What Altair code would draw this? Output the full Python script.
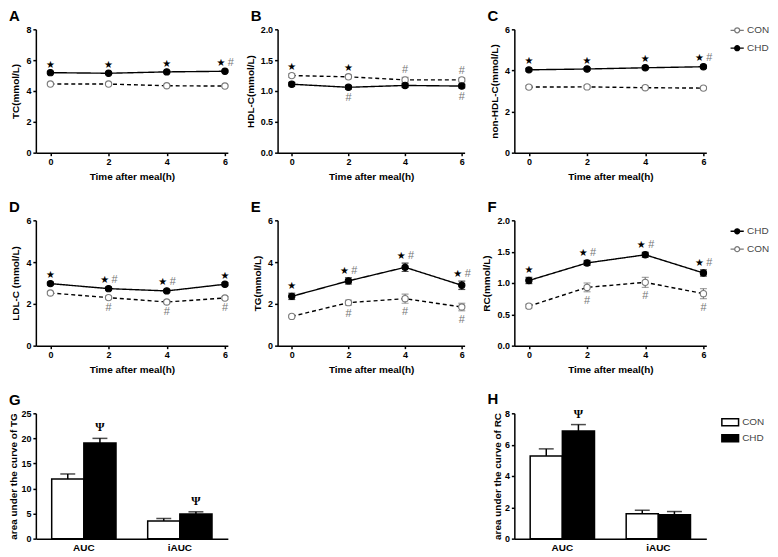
import altair as alt
import pandas as pd

times = [0, 2, 4, 6]

# A: TC
tc_chd = [5.19, 5.15, 5.24, 5.28]
tc_chd_err = [0.06, 0.06, 0.06, 0.06]
tc_con = [4.45, 4.45, 4.34, 4.32]
tc_con_err = [0.05, 0.05, 0.05, 0.05]
tc_top = ["★", "★", "★", "★#"]
tc_bot = ["", "", "", ""]

# B: HDL-C
hdl_chd = [1.11, 1.06, 1.09, 1.08]
hdl_chd_err = [0.03, 0.03, 0.03, 0.03]
hdl_con = [1.25, 1.23, 1.18, 1.18]
hdl_con_err = [0.03, 0.03, 0.04, 0.03]
hdl_top = ["★", "★", "#", "#"]
hdl_bot = ["", "#", "", "#"]

# C: non-HDL-C
nhdl_chd = [4.03, 4.07, 4.13, 4.18]
nhdl_chd_err = [0.07, 0.07, 0.07, 0.07]
nhdl_con = [3.19, 3.20, 3.16, 3.14]
nhdl_con_err = [0.07, 0.07, 0.07, 0.07]
nhdl_top = ["★", "★", "★", "★#"]
nhdl_bot = ["", "", "", ""]

# D: LDL-C
ldl_chd = [2.97, 2.73, 2.62, 2.94]
ldl_chd_err = [0.07, 0.07, 0.07, 0.07]
ldl_con = [2.52, 2.30, 2.09, 2.28]
ldl_con_err = [0.07, 0.07, 0.07, 0.07]
ldl_top = ["★", "★#", "★#", "★"]
ldl_bot = ["", "#", "#", "#"]

# E: TG
tg_chd = [2.36, 3.10, 3.75, 2.89]
tg_chd_err = [0.15, 0.15, 0.20, 0.20]
tg_con = [1.40, 2.06, 2.25, 1.85]
tg_con_err = [0.05, 0.12, 0.22, 0.18]
tg_top = ["★", "★#", "★#", "★#"]
tg_bot = ["", "#", "#", "#"]

# F: RC
rc_chd = [1.04, 1.32, 1.45, 1.16]
rc_chd_err = [0.05, 0.04, 0.04, 0.05]
rc_con = [0.63, 0.93, 1.01, 0.83]
rc_con_err = [0.03, 0.07, 0.08, 0.08]
rc_top = ["★", "★#", "★#", "★#"]
rc_bot = ["", "#", "#", "#"]

# G / H: area under the curve
metrics = ["AUC", "iAUC"]
g_con = [11.9, 3.5]
g_con_err = [1.0, 0.5]
g_chd = [19.1, 4.9]
g_chd_err = [0.9, 0.45]
g_psi = ["Ψ", "Ψ"]
h_con = [5.28, 1.59]
h_con_err = [0.45, 0.22]
h_chd = [6.87, 1.53]
h_chd_err = [0.41, 0.20]
h_psi = ["Ψ", ""]

FONT = "Liberation Sans"
FILL = {"CON": "white", "CHD": "black"}
STROKE = {"CON": "#7a7a7a", "CHD": "black"}
DASH = {"CON": [4, 3], "CHD": [1, 0]}
LINE_SYMBOL = ("M-2,0L-0.75,0M0.75,0L2,0"
               "M0.75,0C0.75,0.414,0.414,0.75,0,0.75C-0.414,0.75,-0.75,0.414,-0.75,0"
               "C-0.75,-0.414,-0.414,-0.75,0,-0.75C0.414,-0.75,0.75,-0.414,0.75,0Z")
BOX_SYMBOL = "M-2.4,-1H2.4V1H-2.4Z"


def letter_title(letter, dx):
    return alt.Title(letter, anchor="start", frame="group", dx=dx, fontSize=15,
                     fontWeight="bold", font=FONT, color="black", offset=1)


def line_panel(letter, ytitle, ymax, yticks, yfmt, chd, chd_err, con, con_err,
               top_lbl, bot_lbl, width, height, legend_order=None, legend_xy=None):
    rows = []
    for g, vals, errs in (("CON", con, con_err), ("CHD", chd, chd_err)):
        for t, v, e in zip(times, vals, errs):
            rows.append(dict(time=t, group=g, dashkey=g + " line", value=v, lo=v - e, hi=v + e))
    df = pd.DataFrame(rows)
    ann = []
    for i, t in enumerate(times):
        top = max(chd[i] + chd_err[i], con[i] + con_err[i])
        bot = min(chd[i] - chd_err[i], con[i] - con_err[i])
        s = "★" in top_lbl[i]
        h = "#" in top_lbl[i]
        if s:
            ann.append(dict(time=t, value=top, txt="★", kind="star_pair" if h else "star"))
        if h:
            ann.append(dict(time=t, value=top, txt="#", kind="hash_pair" if s else "hash_top"))
        if "#" in bot_lbl[i]:
            ann.append(dict(time=t, value=bot, txt="#", kind="hash_bot"))
    adf = pd.DataFrame(ann, columns=["time", "value", "txt", "kind"])

    order = legend_order or ["CON", "CHD"]
    if legend_xy is not None:
        leg = alt.Legend(title=None, orient="none", legendX=legend_xy[0],
                         legendY=legend_xy[1], symbolType=LINE_SYMBOL, symbolSize=44,
                         symbolStrokeWidth=1.3, symbolOpacity=1,
                         labelFont=FONT, labelFontSize=10,
                         labelColor="#444", labelFontWeight="normal", rowPadding=6,
                         labelOffset=5)
    else:
        leg = None

    ysc = alt.Scale(domain=[0, ymax], nice=False, zero=True)
    yax = alt.Axis(values=yticks, format=yfmt, title=ytitle)
    x = alt.X("time:Q", scale=alt.Scale(domain=[-0.5, 6.1], nice=False, zero=False),
              axis=alt.Axis(values=times, format="d", title="Time after meal(h)"))
    y = alt.Y("value:Q", scale=ysc, axis=yax)

    base = alt.Chart(df)
    dash_dom = [g + " line" for g in order]
    line = base.mark_line(color="black", strokeWidth=1.4).encode(
        x=x, y=y,
        strokeDash=alt.StrokeDash("dashkey:N", scale=alt.Scale(domain=dash_dom, range=[DASH[g] for g in order]),
                                  legend=None))
    layers = [line]
    for g in ("CON", "CHD"):
        gb = base.transform_filter(alt.datum.group == g)
        layers.append(gb.mark_rule(strokeWidth=1.2, color=STROKE[g]).encode(
            x=x, y=alt.Y("lo:Q", scale=ysc, axis=yax), y2="hi:Q"))
        layers.append(gb.mark_tick(orient="horizontal", size=7, thickness=1.2, color=STROKE[g]).encode(
            x=x, y=alt.Y("lo:Q", scale=ysc, axis=yax)))
        layers.append(gb.mark_tick(orient="horizontal", size=7, thickness=1.2, color=STROKE[g]).encode(
            x=x, y=alt.Y("hi:Q", scale=ysc, axis=yax)))
    pts = base.mark_point(filled=True, shape="circle", size=40, opacity=1, strokeWidth=1.1).encode(
        x=x, y=y,
        fill=alt.Fill("group:N", scale=alt.Scale(domain=order, range=[FILL[g] for g in order]), legend=leg),
        stroke=alt.Stroke("group:N", scale=alt.Scale(domain=order, range=[STROKE[g] for g in order]), legend=leg))
    layers.append(pts)

    abase = alt.Chart(adf)
    layers += [
        abase.transform_filter(alt.datum.kind == "star").mark_text(
            font="DejaVu Sans", fontSize=10, baseline="bottom", dy=-2, color="black").encode(x=x, y=y, text="txt:N"),
        abase.transform_filter(alt.datum.kind == "star_pair").mark_text(
            font="DejaVu Sans", fontSize=10, baseline="bottom", dy=-2, dx=-4, color="black").encode(x=x, y=y, text="txt:N"),
        abase.transform_filter(alt.datum.kind == "hash_pair").mark_text(
            font=FONT, fontSize=11, baseline="bottom", dy=-2, dx=6, color="#777").encode(x=x, y=y, text="txt:N"),
        abase.transform_filter(alt.datum.kind == "hash_top").mark_text(
            font=FONT, fontSize=11, baseline="bottom", dy=-2, color="#777").encode(x=x, y=y, text="txt:N"),
        abase.transform_filter(alt.datum.kind == "hash_bot").mark_text(
            font=FONT, fontSize=11, baseline="top", dy=3, color="#777").encode(x=x, y=y, text="txt:N"),
    ]
    return alt.layer(*layers).properties(
        width=width, height=height, title=letter_title(letter, -27))


def bar_panel(letter, ytitle, ymax, yticks, con, con_err, chd, chd_err, psi,
              width, height, legend_xy=None):
    rows = []
    for g, vals, errs in (("CON", con, con_err), ("CHD", chd, chd_err)):
        for i, m in enumerate(metrics):
            rows.append(dict(metric=m, group=g, value=vals[i], hi=vals[i] + errs[i],
                             psi=psi[i] if g == "CHD" else ""))
    df = pd.DataFrame(rows)
    order = ["CON", "CHD"]
    if legend_xy is not None:
        leg = alt.Legend(title=None, orient="none", legendX=legend_xy[0], legendY=legend_xy[1],
                         symbolType=BOX_SYMBOL, symbolSize=49, symbolStrokeColor="black",
                         symbolStrokeWidth=1.5, labelFont=FONT, labelFontSize=10,
                         labelColor="#444", labelFontWeight="normal", rowPadding=2, labelOffset=7)
    else:
        leg = None
    x = alt.X("metric:N", sort=metrics,
              scale=alt.Scale(domain=metrics, paddingInner=0.33, paddingOuter=0.165),
              axis=alt.Axis(title=None, labelAngle=0, ticks=False, labelFontSize=10, labelPadding=4))
    xo = alt.XOffset("group:N", scale=alt.Scale(domain=order, paddingInner=0, paddingOuter=0))
    ysc = alt.Scale(domain=[0, ymax], nice=False)
    yax = alt.Axis(values=yticks, format="d", title=ytitle, titlePadding=2)
    base = alt.Chart(df)
    bars = base.mark_bar(stroke="black", strokeWidth=1.5).encode(
        x=x, xOffset=xo, y=alt.Y("value:Q", scale=ysc, axis=yax),
        fill=alt.Fill("group:N", scale=alt.Scale(domain=order, range=[FILL[g] for g in order]), legend=leg))
    rule = base.mark_rule(color="black", strokeWidth=1.5).encode(
        x=x, xOffset=xo, y=alt.Y("value:Q", scale=ysc, axis=yax), y2="hi:Q")
    cap = base.mark_tick(color="black", thickness=1.5, size=15, orient="horizontal").encode(
        x=x, xOffset=xo, y=alt.Y("hi:Q", scale=ysc, axis=yax))
    txt = base.mark_text(font="Liberation Serif", fontSize=12, fontWeight="bold", baseline="bottom",
                         dy=-4, color="black").encode(
        x=x, xOffset=xo, y=alt.Y("hi:Q", scale=ysc, axis=yax), text="psi:N")
    return alt.layer(bars, rule, cap, txt).properties(
        width=width, height=height, title=letter_title(letter, -27))


W1, W2, W3 = 193, 188, 193
H1, H2, H3 = 124, 126, 126

pA = line_panel("A", "TC(mmol/L)", 8, [0, 2, 4, 6, 8], "d", tc_chd, tc_chd_err, tc_con, tc_con_err,
                tc_top, tc_bot, W1, H1)
pB = line_panel("B", "HDL-C(mmol/L)", 2.0, [0, 0.5, 1.0, 1.5, 2.0], ".1f", hdl_chd, hdl_chd_err,
                hdl_con, hdl_con_err, hdl_top, hdl_bot, W2, H1)
pC = line_panel("C", "non-HDL-C(mmol/L)", 6, [0, 2, 4, 6], "d", nhdl_chd, nhdl_chd_err, nhdl_con,
                nhdl_con_err, nhdl_top, nhdl_bot, W3, H1, legend_order=["CON", "CHD"],
                legend_xy=[219, -4])
pD = line_panel("D", "LDL-C (mmol/L)", 6, [0, 2, 4, 6], "d", ldl_chd, ldl_chd_err, ldl_con,
                ldl_con_err, ldl_top, ldl_bot, W1, H2)
pE = line_panel("E", "TG(mmol/L)", 6, [0, 2, 4, 6], "d", tg_chd, tg_chd_err, tg_con, tg_con_err,
                tg_top, tg_bot, W2, H2)
pF = line_panel("F", "RC(mmol/L)", 2.0, [0, 0.5, 1.0, 1.5, 2.0], ".1f", rc_chd, rc_chd_err, rc_con,
                rc_con_err, rc_top, rc_bot, W3, H2, legend_order=["CHD", "CON"],
                legend_xy=[219, 6])
pG = bar_panel("G", "area under the curve of TG", 25, [0, 5, 10, 15, 20, 25], g_con, g_con_err,
               g_chd, g_chd_err, g_psi, W1, H3)
pH = bar_panel("H", "area under the curve of RC", 8, [0, 2, 4, 6, 8], h_con, h_con_err,
               h_chd, h_chd_err, h_psi, W3, H3, legend_xy=[212, 4])

empty = alt.Chart(pd.DataFrame({"v": [0]})).mark_point(opacity=0).encode(
    x=alt.X("v:Q", axis=None), y=alt.Y("v:Q", axis=None)).properties(width=10, height=10)

chart = alt.concat(pA, pB, pC, pD, pE, pF, pG, empty, pH, columns=3,
                   spacing={"row": 68, "column": 50}, bounds="flush", align="each").properties(
    padding={"left": 0, "top": 0, "right": 0, "bottom": 0},
    background="white",
).resolve_scale(
    x="independent", y="independent", fill="independent", stroke="independent",
    strokeDash="independent", xOffset="independent"
).configure_view(stroke=None).configure_axis(
    grid=False, domainColor="black", domainWidth=1.5, tickColor="black", tickWidth=1.5,
    tickSize=3, labelFont=FONT, labelFontSize=9, labelFontWeight="bold", labelColor="black",
    labelPadding=2, titleFont=FONT, titleFontSize=10, titleFontWeight="bold", titleColor="black",
    titlePadding=5
)

chart.save("out.html", embed_options={"renderer": "svg", "actions": False})
